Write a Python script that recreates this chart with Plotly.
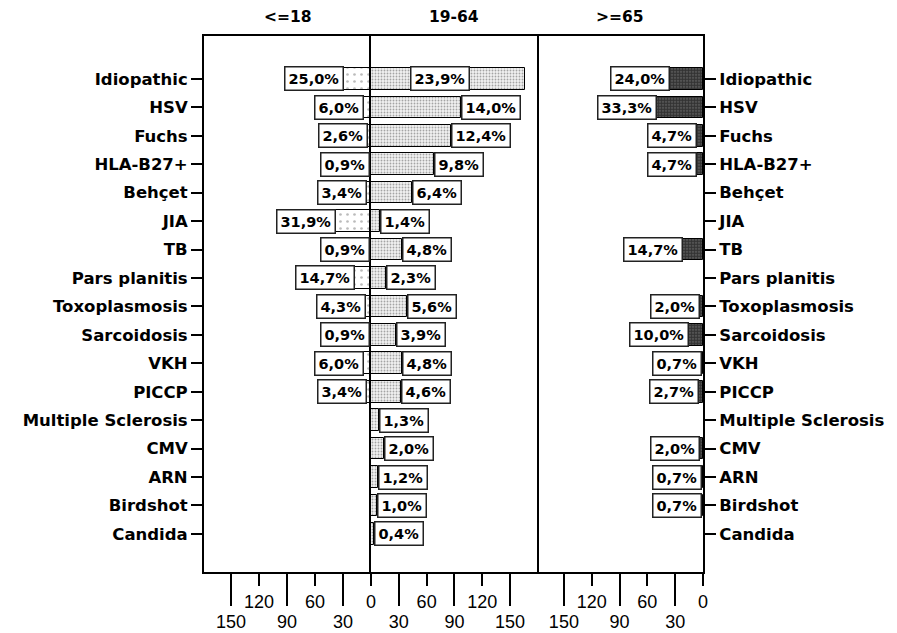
import plotly.graph_objects as go

categories = ["Idiopathic", "HSV", "Fuchs", "HLA-B27+", "Behçet", "JIA", "TB",
              "Pars planitis", "Toxoplasmosis", "Sarcoidosis", "VKH", "PICCP",
              "Multiple Sclerosis", "CMV", "ARN", "Birdshot", "Candida"]

group_titles = ["<=18", "19-64", ">=65"]

counts_le18 = [29, 7, 3, 1, 4, 37, 1, 17, 5, 1, 7, 4, None, None, None, None, None]
pct_le18 = ["25,0%", "6,0%", "2,6%", "0,9%", "3,4%", "31,9%", "0,9%", "14,7%",
            "4,3%", "0,9%", "6,0%", "3,4%", None, None, None, None, None]

counts_19_64 = [166, 97, 86, 68, 44, 10, 33, 16, 39, 27, 33, 32, 9, 14, 8, 7, 3]
pct_19_64 = ["23,9%", "14,0%", "12,4%", "9,8%", "6,4%", "1,4%", "4,8%", "2,3%",
             "5,6%", "3,9%", "4,8%", "4,6%", "1,3%", "2,0%", "1,2%", "1,0%", "0,4%"]

counts_ge65 = [36, 50, 7, 7, None, None, 22, None, 3, 15, 1, 4, None, 3, 1, 1, None]
pct_ge65 = ["24,0%", "33,3%", "4,7%", "4,7%", None, None, "14,7%", None,
            "2,0%", "10,0%", "0,7%", "2,7%", None, "2,0%", "0,7%", "0,7%", None]

long_ticks = [30, 90, 150]
short_ticks = [0, 60, 120]
XMAX = 179

BOLD = "DejaVu Sans"
fig = go.Figure()

line = dict(color="black", width=1)
fig.add_trace(go.Bar(x=counts_le18, y=categories, orientation="h", xaxis="x", yaxis="y",
                     width=0.76,
                     marker=dict(color="white", line=line,
                                 pattern=dict(shape=".", fgcolor="#777", bgcolor="white",
                                              size=7, solidity=0.12)),
                     showlegend=False, hoverinfo="skip"))
fig.add_trace(go.Bar(x=counts_19_64, y=categories, orientation="h", xaxis="x2", yaxis="y2",
                     width=0.76,
                     marker=dict(color="white", line=line,
                                 pattern=dict(shape=".", fgcolor="#555", bgcolor="#f2f2f2",
                                              size=3, solidity=0.3)),
                     showlegend=False, hoverinfo="skip"))
fig.add_trace(go.Bar(x=counts_ge65, y=categories, orientation="h", xaxis="x3", yaxis="y3",
                     width=0.76,
                     marker=dict(color="black", line=line,
                                 pattern=dict(shape=".", fgcolor="black", bgcolor="#666",
                                              size=3, solidity=0.7)),
                     showlegend=False, hoverinfo="skip"))

# invisible traces so that the overlaying (short-tick) axes get drawn
for xa, ya in [("x4", "y"), ("x5", "y2"), ("x6", "y3")]:
    fig.add_trace(go.Scatter(x=[None], y=[None], xaxis=xa, yaxis=ya, mode="markers",
                             showlegend=False, hoverinfo="skip"))

ann = []
box = dict(bgcolor="white", bordercolor="#222", borderwidth=1.5, borderpad=3,
           showarrow=False, font=dict(family=BOLD, size=14.5, color="black", weight="bold"))
for c, v, t in zip(categories, counts_le18, pct_le18):
    if v is not None:
        ann.append(dict(x=v, y=c, xref="x", yref="y", text=t, xanchor="right", **box))
for c, v, t in zip(categories, counts_19_64, pct_19_64):
    if v is not None:
        if v > 120:
            ann.append(dict(x=v * 0.45, y=c, xref="x2", yref="y2", text=t, xanchor="center", **box))
        else:
            ann.append(dict(x=v, y=c, xref="x2", yref="y2", text=t, xanchor="left", **box))
for c, v, t in zip(categories, counts_ge65, pct_ge65):
    if v is not None:
        ann.append(dict(x=v, y=c, xref="x3", yref="y3", text=t, xanchor="right", **box))

for i, title in enumerate(group_titles):
    xr = "x domain" if i == 0 else f"x{i+1} domain"
    ann.append(dict(x=0.5, y=1, xref=xr, yref="paper", yanchor="bottom", yshift=8,
                    text=title, showarrow=False,
                    font=dict(family=BOLD, size=15.5, color="black", weight="bold")))

d1, d2 = 167 / 499, 333 / 499
tickfont = dict(family="Liberation Sans", size=18, color="black")
common_x = dict(showgrid=False, zeroline=False, showline=True, linecolor="black", linewidth=2,
                ticks="outside", tickcolor="black", tickwidth=2, tickfont=tickfont,
                automargin=False)
LONG, SHORT = 32, 12

layout = dict(
    width=897, height=633, plot_bgcolor="white", paper_bgcolor="white",
    margin=dict(l=204, r=194, t=36, b=61, autoexpand=False), bargap=0,
    xaxis=dict(domain=[0, d1], range=[XMAX, 0], tickvals=long_ticks, ticklen=LONG,
               mirror=True, anchor="y", **common_x),
    xaxis4=dict(overlaying="x", range=[XMAX, 0], tickvals=short_ticks, ticklen=SHORT,
                anchor="y", **common_x),
    xaxis2=dict(domain=[d1, d2], range=[0, XMAX], tickvals=long_ticks, ticklen=LONG,
                mirror=True, anchor="y2", **common_x),
    xaxis5=dict(overlaying="x2", range=[0, XMAX], tickvals=[60, 120], ticklen=SHORT,
                anchor="y2", **common_x),
    xaxis3=dict(domain=[d2, 1], range=[XMAX, 0], tickvals=long_ticks, ticklen=LONG,
                mirror=True, anchor="y3", **common_x),
    xaxis6=dict(overlaying="x3", range=[XMAX, 0], tickvals=short_ticks, ticklen=SHORT,
                anchor="y3", **common_x),
    annotations=ann,
)
ycommon = dict(type="category", categoryarray=categories, categoryorder="array",
               range=[17.34, -1.51], showgrid=False, zeroline=False,
               showline=True, linecolor="black", linewidth=2, automargin=False)
yfont = dict(family=BOLD, size=16.5, color="black", weight="bold")
layout["yaxis"] = dict(anchor="x", side="left", ticks="outside", ticklen=11, tickwidth=1.5,
                       tickcolor="black", tickfont=yfont, **ycommon)
layout["yaxis2"] = dict(anchor="x2", matches="y", showticklabels=False, ticks="",
                        mirror=True, **ycommon)
layout["yaxis3"] = dict(anchor="x3", side="right", matches="y", ticks="outside", ticklen=11,
                        tickwidth=1.5, tickcolor="black", tickfont=yfont, **ycommon)
fig.update_layout(**layout)
fig.write_html("out.html", config={"displayModeBar": False},
               post_script="document.body.style.margin='0';")
